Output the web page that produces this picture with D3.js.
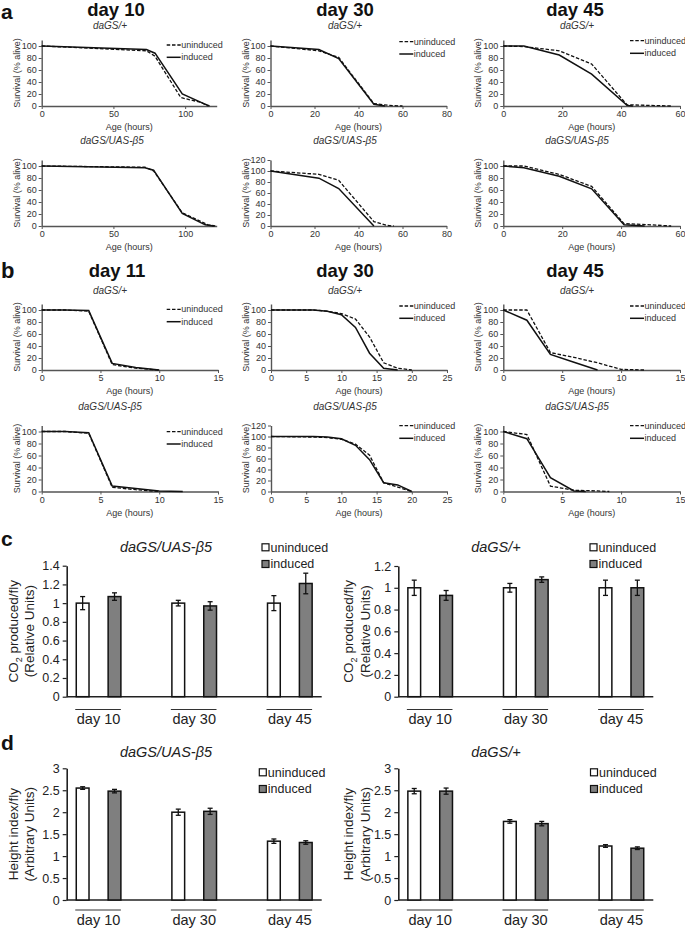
<!DOCTYPE html>
<html><head><meta charset="utf-8">
<script src="https://cdn.jsdelivr.net/npm/d3@7"></script>
<style>html,body{margin:0;padding:0;background:#fff;} svg{display:block;}</style>
</head><body>
<svg id="fig" width="685" height="929"></svg>
<script>
// ================= DATA =================
const seriesNames = ["uninduced", "induced"];
// Panel a: survival [age (hours), % alive]
const a_d10_ctrl_un = [[0,100],[73,92],[79,83],[97,14],[111,6],[116,0]];
const a_d10_ctrl_in = [[0,100],[73,94],[79,88],[98,20],[113,4],[117,0]];
const a_d30_ctrl_un = [[0,100],[22,92],[31,81],[47,4],[54,1],[60,0]];
const a_d30_ctrl_in = [[0,100],[22,94],[31,79],[47,3],[52,0]];
const a_d45_ctrl_un = [[0,100],[7,99],[19,92],[30,70],[42,2],[50,1],[57,0]];
const a_d45_ctrl_in = [[0,100],[7,100],[19,85],[30,53],[42,1],[44,0]];
const a_d10_b5_un = [[0,100],[72,98],[78,92],[98,22],[116,2],[121,0]];
const a_d10_b5_in = [[0,100],[72,97],[78,93],[98,21],[114,2],[120,0]];
const a_d30_b5_un = [[0,100],[22,94],[31,83],[47,8],[53,1],[56,0]];
const a_d30_b5_in = [[0,100],[22,87],[31,68],[47,0]];
const a_d45_b5_un = [[0,100],[7,100],[19,86],[30,66],[41,4],[50,2],[57,0]];
const a_d45_b5_in = [[0,100],[7,97],[19,83],[30,62],[41,2],[48,0]];
// Panel b
const b_d11_ctrl_un = [[0,100],[2,100],[4,98],[6,9],[8,3],[10,0]];
const b_d11_ctrl_in = [[0,100],[2,100],[4,99],[6,11],[8,4],[10,0]];
const b_d30_ctrl_un = [[0,100],[6,100],[8,98],[10,94],[12,85],[14,55],[16,12],[18,3],[20,0]];
const b_d30_ctrl_in = [[0,100],[6,100],[8,98],[10,92],[12,71],[14,28],[16,3],[18,0]];
const b_d45_ctrl_un = [[0,100],[2,100],[4,29],[6,21],[8,12],[10,1],[12,0]];
const b_d45_ctrl_in = [[0,100],[2,83],[4,26],[6,13],[8,0]];
const b_d11_b5_un = [[0,100],[2,100],[4,97],[6,7],[8,3],[10,0]];
const b_d11_b5_in = [[0,100],[2,100],[4,98],[6,9],[8,5],[10,1],[12,0]];
const b_d30_b5_un = [[0,100],[6,99],[8,98],[10,95],[12,86],[14,66],[16,16],[18,8],[20,0]];
const b_d30_b5_in = [[0,100],[6,100],[8,99],[10,96],[12,84],[14,58],[16,16],[18,12],[20,0]];
const b_d45_b5_un = [[0,100],[2,95],[4,9],[6,2],[8,1],[9,0]];
const b_d45_b5_in = [[0,100],[2,88],[4,23],[6,1],[7,0]];
// axis ticks
const ticks_a_d10 = [0,50,100];
const ticks_a_d30 = [0,20,40,60,80];
const ticks_a_d45 = [0,20,40,60];
const ticks_b_15 = [0,5,10,15];
const ticks_b_25 = [0,5,10,15,20,25];
// Panels c, d: bars
const barCategories = ["day 10","day 30","day 45"];
const c_b5_un = [1.00,1.00,1.00],  c_b5_un_err = [0.07,0.03,0.08];
const c_b5_in = [1.07,0.97,1.21],  c_b5_in_err = [0.04,0.045,0.11];
const c_ctrl_un = [1.00,1.00,1.00], c_ctrl_un_err = [0.07,0.04,0.07];
const c_ctrl_in = [0.93,1.075,1.00], c_ctrl_in_err = [0.045,0.025,0.07];
const d_b5_un = [2.55,2.00,1.34],  d_b5_un_err = [0.03,0.07,0.05];
const d_b5_in = [2.48,2.02,1.31],  d_b5_in_err = [0.04,0.07,0.04];
const d_ctrl_un = [2.48,1.79,1.23], d_ctrl_un_err = [0.06,0.04,0.03];
const d_ctrl_in = [2.48,1.74,1.18], d_ctrl_in_err = [0.07,0.05,0.03];
const c_b5_yTicks = [0,0.2,0.4,0.6,0.8,1,1.2,1.4];
const c_ctrl_yTicks = [0,0.2,0.4,0.6,0.8,1,1.2];
const d_yTicks = [0,0.5,1,1.5,2,2.5,3];

// ================= DRAWING =================
const svg = d3.select("#fig");
const FONT = "'Liberation Sans', Arial, Helvetica, sans-serif";
const INK = "#222";

function txt(x, y, s, o = {}) {
  const t = svg.append("text").attr("x", x).attr("y", y).text(s)
    .attr("font-family", FONT).attr("font-size", o.size || 10)
    .attr("fill", o.fill || INK)
    .attr("text-anchor", o.anchor || "middle");
  if (o.weight) t.attr("font-weight", o.weight);
  if (o.italic) t.attr("font-style", "italic");
  if (o.dy) t.attr("dy", o.dy);
  return t;
}

function survivalPlot(o) {
  const H = 66;
  const x = d3.scaleLinear().domain([0, o.xMax]).range([o.x0, o.x1]);
  const y = d3.scaleLinear().domain([0, o.yMax]).range([o.yb, o.yb - H]);
  const g = svg.append("g");
  const ya = g.append("g").attr("transform", `translate(${o.x0},0)`)
    .call(d3.axisLeft(y).tickValues(d3.range(0, o.yMax + 0.1, 20)).tickSize(3).tickPadding(2).tickSizeOuter(0));
  const xa = g.append("g").attr("transform", `translate(0,${o.yb})`)
    .call(d3.axisBottom(x).tickValues(o.xTicks).tickSize(3).tickPadding(2).tickSizeOuter(0));
  [ya, xa].forEach(a => {
    a.select(".domain").attr("stroke", "#555").attr("stroke-width", 1.4);
    a.selectAll(".tick line").attr("stroke", "#555").attr("stroke-width", 1);
    a.selectAll("text").attr("font-family", FONT).attr("font-size", 9).attr("fill", "#333");
  });
  const line = d3.line().x(d => x(d[0])).y(d => y(d[1]));
  g.append("path").datum(o.un).attr("d", line).attr("fill", "none")
    .attr("stroke", "#111").attr("stroke-width", 1.3).attr("stroke-dasharray", "3.5,1.8");
  g.append("path").datum(o.ind).attr("d", line).attr("fill", "none")
    .attr("stroke", "#111").attr("stroke-width", 1.5);
  txt((o.x0 + o.x1) / 2, o.yb + 21, "Age (hours)", {size: 9, fill: "#333", dy: "0.35em"});
  txt(0, 0, "Survival (% alive)", {size: 9, fill: "#333", dy: "0.35em"})
    .attr("transform", `translate(${o.x0 - 25},${o.yb - H / 2}) rotate(-90)`);
  txt(o.subX, o.subY, o.sub, {size: 10, italic: true, fill: "#333", dy: "0.35em"});
  if (o.leg) {
    const [lx, ly1, ly2] = o.leg;
    [[ly1, true, seriesNames[0]], [ly2, false, seriesNames[1]]].forEach(([ly, dashed, name]) => {
      const l = g.append("line").attr("x1", lx).attr("x2", lx + 14).attr("y1", ly).attr("y2", ly)
        .attr("stroke", "#111").attr("stroke-width", dashed ? 1.3 : 1.5);
      if (dashed) l.attr("stroke-dasharray", "3.5,1.8");
      txt(lx + 14.5, ly, name, {size: 9, anchor: "start", fill: "#333", dy: "0.35em"});
    });
  }
}

const colA = [{x0: 41.7, x1: 216.7}, {x0: 270.5, x1: 446.5}, {x0: 503.3, x1: 680}];
const colB = [{x0: 41.7, x1: 218}, {x0: 271, x1: 447}, {x0: 503.3, x1: 680}];
const subXs = [110, 345, 577];
const legX = [166.7, 399.3, 630];

// panel a, row 1
survivalPlot({...colA[0], xMax: 122, xTicks: ticks_a_d10, yMax: 110, yb: 106, un: a_d10_ctrl_un, ind: a_d10_ctrl_in, sub: "daGS/+", subX: subXs[0], subY: 25.5, leg: [legX[0], 45, 57.3]});
survivalPlot({...colA[1], xMax: 80, xTicks: ticks_a_d30, yMax: 110, yb: 106, un: a_d30_ctrl_un, ind: a_d30_ctrl_in, sub: "daGS/+", subX: subXs[1], subY: 25.5, leg: [legX[1], 41.7, 54]});
survivalPlot({...colA[2], xMax: 60, xTicks: ticks_a_d45, yMax: 110, yb: 106, un: a_d45_ctrl_un, ind: a_d45_ctrl_in, sub: "daGS/+", subX: subXs[2], subY: 25.5, leg: [legX[2], 40.7, 53.3]});
// panel a, row 2
survivalPlot({...colA[0], xMax: 122, xTicks: ticks_a_d10, yMax: 110, yb: 226, un: a_d10_b5_un, ind: a_d10_b5_in, sub: "daGS/UAS-β5", subX: subXs[0] + 2, subY: 140, leg: null});
survivalPlot({...colA[1], xMax: 80, xTicks: ticks_a_d30, yMax: 120, yb: 226, un: a_d30_b5_un, ind: a_d30_b5_in, sub: "daGS/UAS-β5", subX: subXs[1], subY: 140, leg: null});
survivalPlot({...colA[2], xMax: 60, xTicks: ticks_a_d45, yMax: 110, yb: 226, un: a_d45_b5_un, ind: a_d45_b5_in, sub: "daGS/UAS-β5", subX: subXs[2], subY: 140, leg: null});
// panel b, row 1
survivalPlot({...colB[0], xMax: 15, xTicks: ticks_b_15, yMax: 110, yb: 370, un: b_d11_ctrl_un, ind: b_d11_ctrl_in, sub: "daGS/+", subX: subXs[0], subY: 290.5, leg: [legX[0], 309.3, 321.7]});
survivalPlot({...colB[1], xMax: 25, xTicks: ticks_b_25, yMax: 110, yb: 370, un: b_d30_ctrl_un, ind: b_d30_ctrl_in, sub: "daGS/+", subX: subXs[1], subY: 290.5, leg: [legX[1], 306, 318.3]});
survivalPlot({...colB[2], xMax: 15, xTicks: ticks_b_15, yMax: 110, yb: 370, un: b_d45_ctrl_un, ind: b_d45_ctrl_in, sub: "daGS/+", subX: subXs[2], subY: 290.5, leg: [legX[2], 306, 318.3]});
// panel b, row 2
survivalPlot({...colB[0], xMax: 15, xTicks: ticks_b_15, yMax: 110, yb: 491.5, un: b_d11_b5_un, ind: b_d11_b5_in, sub: "daGS/UAS-β5", subX: subXs[0], subY: 406, leg: [legX[0], 431.7, 444]});
survivalPlot({...colB[1], xMax: 25, xTicks: ticks_b_25, yMax: 120, yb: 491.5, un: b_d30_b5_un, ind: b_d30_b5_in, sub: "daGS/UAS-β5", subX: subXs[1], subY: 406, leg: [legX[1], 425.7, 438.3]});
survivalPlot({...colB[2], xMax: 15, xTicks: ticks_b_15, yMax: 110, yb: 491.5, un: b_d45_b5_un, ind: b_d45_b5_in, sub: "daGS/UAS-β5", subX: subXs[2], subY: 406, leg: [legX[2], 425.7, 438.3]});

// day titles and panel letters
[["day 10", 116], ["day 30", 345], ["day 45", 575]].forEach(([s, x]) => txt(x, 15.5, s, {size: 18.5, weight: "bold", fill: "#111"}));
[["day 11", 117], ["day 30", 345], ["day 45", 575]].forEach(([s, x]) => txt(x, 276.5, s, {size: 18.5, weight: "bold", fill: "#111"}));
txt(1, 19, "a", {size: 21, weight: "bold", anchor: "start", fill: "#111"});
txt(1, 278, "b", {size: 22, weight: "bold", anchor: "start", fill: "#111"});
txt(1, 546, "c", {size: 21, weight: "bold", anchor: "start", fill: "#111"});
txt(1, 750, "d", {size: 21, weight: "bold", anchor: "start", fill: "#111"});

function barPlot(o) {
  const slots = [];
  barCategories.forEach((c, i) => {
    slots.push(c + "|u", c + "|i");
    if (i < barCategories.length - 1) slots.push("gap" + i);
  });
  const x = d3.scaleBand().domain(slots).range([o.x0, o.x1]).paddingInner(0.6).paddingOuter(0.3);
  const y = d3.scaleLinear().domain([0, o.yTicks[o.yTicks.length - 1]]).range([o.yb, o.yt]);
  const g = svg.append("g");
  const ya = g.append("g").attr("transform", `translate(${o.x0},0)`)
    .call(d3.axisLeft(y).tickValues(o.yTicks).tickFormat(d => String(d)).tickSize(4).tickPadding(3).tickSizeOuter(0));
  ya.select(".domain").attr("stroke", INK).attr("stroke-width", 1.6);
  ya.selectAll(".tick line").attr("stroke", INK).attr("stroke-width", 1.2);
  ya.selectAll("text").attr("font-family", FONT).attr("font-size", 12.5).attr("fill", INK);
  g.append("line").attr("x1", o.x0).attr("x2", o.x1).attr("y1", o.yb).attr("y2", o.yb)
    .attr("stroke", INK).attr("stroke-width", 1.6);
  const series = [
    {key: "u", vals: o.un, errs: o.unErr, fill: "#ffffff"},
    {key: "i", vals: o.ind, errs: o.indErr, fill: "#7f7f7f"}
  ];
  const bw = x.bandwidth();
  series.forEach(s => {
    barCategories.forEach((c, i) => {
      const bx = x(c + "|" + s.key);
      g.append("rect").attr("x", bx).attr("y", y(s.vals[i])).attr("width", bw)
        .attr("height", o.yb - y(s.vals[i])).attr("fill", s.fill)
        .attr("stroke", "#111").attr("stroke-width", 1.5);
      const cx = bx + bw / 2, hi = y(s.vals[i] + s.errs[i]), lo = y(s.vals[i] - s.errs[i]);
      g.append("line").attr("x1", cx).attr("x2", cx).attr("y1", hi).attr("y2", lo).attr("stroke", "#111").attr("stroke-width", 1.3);
      [hi, lo].forEach(yy => g.append("line").attr("x1", cx - 2.5).attr("x2", cx + 2.5).attr("y1", yy).attr("y2", yy).attr("stroke", "#111").attr("stroke-width", 1.3));
    });
  });
  barCategories.forEach(c => {
    const xa = x(c + "|u"), xb = x(c + "|i") + bw;
    g.append("line").attr("x1", xa - 1).attr("x2", xb).attr("y1", o.lineY).attr("y2", o.lineY).attr("stroke", "#333").attr("stroke-width", 1);
    txt((xa + xb) / 2, o.labY, c, {size: 14.5, fill: INK});
  });
  txt(o.titleX, o.titleY, o.title, {size: 14.5, italic: true, fill: INK, dy: "0.35em"});
  // legend
  [[o.legY[0], "#ffffff", seriesNames[0]], [o.legY[1], "#7f7f7f", seriesNames[1]]].forEach(([ly, f, name]) => {
    g.append("rect").attr("x", o.legX).attr("y", ly - 3.5).attr("width", 7).attr("height", 7)
      .attr("fill", f).attr("stroke", "#111").attr("stroke-width", 1.2);
    txt(o.legX + 8.5, ly, name, {size: 12.5, anchor: "start", fill: INK, dy: "0.35em"});
  });
  // y axis title (two lines)
  const yc = (o.yb + o.yt) / 2;
  const t1 = svg.append("text").attr("font-family", FONT).attr("font-size", 13.5).attr("fill", INK)
    .attr("text-anchor", "middle").attr("dy", "0.35em")
    .attr("transform", `translate(${o.x0 - o.t1off},${yc}) rotate(-90)`);
  if (o.co2) {
    t1.append("tspan").text("CO");
    t1.append("tspan").text("2").attr("font-size", 9).attr("dy", 3.5);
    t1.append("tspan").text(" produced/fly").attr("dy", -3.5);
  } else {
    t1.text(o.yTitle1);
  }
  svg.append("text").attr("font-family", FONT).attr("font-size", 13.5).attr("fill", INK)
    .attr("text-anchor", "middle").attr("dy", "0.35em")
    .attr("transform", `translate(${o.x0 - o.t2off},${yc}) rotate(-90)`).text(o.yTitle2);
}

barPlot({x0: 66.7, x1: 321.7, yb: 696.7, yt: 565.7, yTicks: c_b5_yTicks, un: c_b5_un, unErr: c_b5_un_err, ind: c_b5_in, indErr: c_b5_in_err,
  title: "daGS/UAS-β5", titleX: 166, titleY: 547, legX: 262, legY: [547.3, 564], lineY: 709.5, labY: 723.5,
  co2: true, yTitle2: "(Relative Units)", t1off: 53, t2off: 37});
barPlot({x0: 398.3, x1: 653.3, yb: 696.7, yt: 566, yTicks: c_ctrl_yTicks, un: c_ctrl_un, unErr: c_ctrl_un_err, ind: c_ctrl_in, indErr: c_ctrl_in_err,
  title: "daGS/+", titleX: 496, titleY: 547, legX: 590, legY: [547.3, 564], lineY: 709.5, labY: 723.5,
  co2: true, yTitle2: "(Relative Units)", t1off: 50, t2off: 33.5});
barPlot({x0: 66.7, x1: 321.7, yb: 900, yt: 768.3, yTicks: d_yTicks, un: d_b5_un, unErr: d_b5_un_err, ind: d_b5_in, indErr: d_b5_in_err,
  title: "daGS/UAS-β5", titleX: 166, titleY: 752, legX: 259.3, legY: [772.3, 789], lineY: 910, labY: 925,
  co2: false, yTitle1: "Height index/fly", yTitle2: "(Arbitrary Units)", t1off: 53, t2off: 37});
barPlot({x0: 398.3, x1: 653.3, yb: 900, yt: 768.3, yTicks: d_yTicks, un: d_ctrl_un, unErr: d_ctrl_un_err, ind: d_ctrl_in, indErr: d_ctrl_in_err,
  title: "daGS/+", titleX: 496, titleY: 752, legX: 590.5, legY: [772.3, 789], lineY: 910, labY: 925,
  co2: false, yTitle1: "Height index/fly", yTitle2: "(Arbitrary Units)", t1off: 50, t2off: 33.5});
</script>
</body></html>
